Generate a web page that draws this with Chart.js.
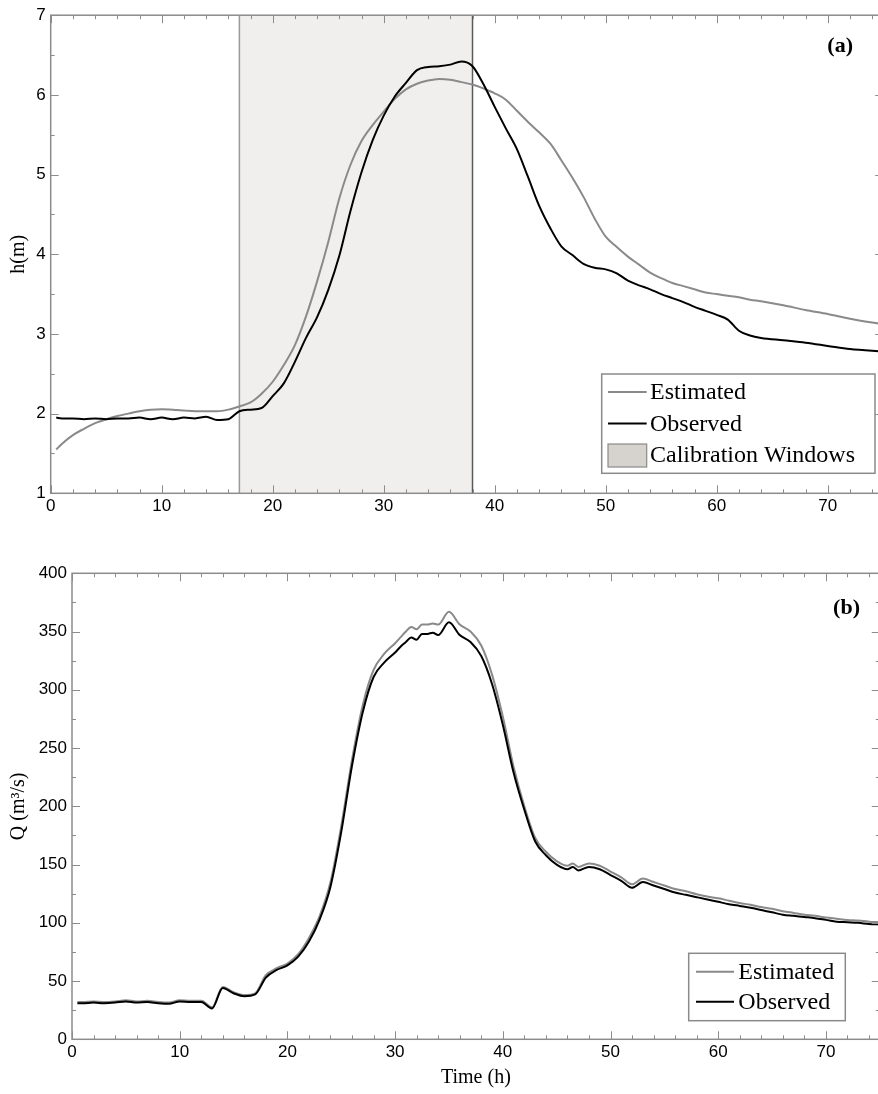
<!DOCTYPE html>
<html>
<head>
<meta charset="utf-8">
<title>Water level and discharge</title>
<script src="https://cdn.jsdelivr.net/npm/chart.js@4.4.1/dist/chart.umd.min.js"></script>
<style>
  html, body { margin:0; padding:0; background:#fff; overflow:hidden; }
  body { width:878px; height:1094px; position:relative; }
  #levelBox { position:absolute; left:0; top:0; }
  #flowBox { position:absolute; left:0; top:540px; }
</style>
</head>
<body>
<div id="levelBox"><canvas id="levelChart" width="884" height="530"></canvas></div>
<div id="flowBox"><canvas id="flowChart" width="881" height="554"></canvas></div>
<script>
// panel (a): water level h (m) against time (h)
const levelTime = [0.5, 1, 2, 3, 4, 5, 6, 7, 8, 9, 10, 11, 12, 13, 14, 15, 16, 17, 18, 19,
  20, 21, 22, 23, 24, 25, 26, 27, 28, 29, 30, 31, 32, 33, 34, 35, 36, 37, 38, 39,
  40, 41, 42, 43, 44, 45, 46, 47, 48, 49, 50, 51, 52, 53, 54, 55, 56, 57, 58, 59,
  60, 61, 62, 63, 64, 66, 68, 70, 72, 75];
const levelEstimated = [1.55, 1.62, 1.73, 1.81, 1.88, 1.93, 1.97, 2.00, 2.03, 2.05, 2.055, 2.05, 2.04, 2.03, 2.03, 2.03, 2.05, 2.09, 2.14, 2.25,
  2.40, 2.61, 2.86, 3.22, 3.66, 4.15, 4.70, 5.12, 5.42, 5.62, 5.79, 5.95, 6.07, 6.14, 6.18, 6.20, 6.19, 6.16, 6.13, 6.08,
  6.02, 5.94, 5.80, 5.66, 5.53, 5.39, 5.18, 4.96, 4.72, 4.45, 4.22, 4.09, 3.97, 3.87, 3.77, 3.70, 3.64, 3.60, 3.56, 3.52,
  3.50, 3.48, 3.46, 3.43, 3.41, 3.36, 3.30, 3.25, 3.19, 3.12];
const levelObserved = [1.95, 1.94, 1.94, 1.93, 1.94, 1.93, 1.94, 1.94, 1.95, 1.93, 1.95, 1.93, 1.95, 1.94, 1.96, 1.92, 1.93, 2.03, 2.05, 2.07,
  2.22, 2.38, 2.65, 2.95, 3.21, 3.55, 3.98, 4.54, 5.03, 5.43, 5.74, 5.98, 6.15, 6.31, 6.35, 6.36, 6.38, 6.42, 6.36, 6.13,
  5.85, 5.58, 5.32, 4.97, 4.61, 4.33, 4.10, 3.99, 3.88, 3.83, 3.81, 3.76, 3.67, 3.61, 3.56, 3.50, 3.45, 3.40, 3.34, 3.29,
  3.24, 3.18, 3.04, 2.98, 2.95, 2.92, 2.89, 2.85, 2.81, 2.78];
const calibStart = 17;
const calibEnd = 38;

// panel (b): discharge Q (m3/s) against time (h)
const flowTime = [0.5, 1, 2, 3, 4, 5, 6, 7, 8, 9, 10, 11, 12, 13, 14, 15, 16, 17, 18, 19,
  20, 21, 22, 23, 24, 25, 26, 27, 28, 29, 30, 30.5, 31, 31.5, 32, 32.5, 33, 33.5, 34, 35,
  36, 37, 38, 39, 40, 41, 42, 43, 44, 45, 46, 46.5, 47, 48, 49, 50, 51, 52, 53, 54,
  55, 56, 57, 58, 59, 60, 61, 62, 63, 64, 65, 66, 67, 68, 69, 70, 71, 72, 73, 74, 75];
const flowEstimated = [32, 32, 32.5, 32, 32.5, 33.5, 32.5, 33, 32, 31.5, 33.5, 33, 33, 27.5, 45, 40.5, 38, 39.5, 55, 61,
  65, 73, 87, 106, 135, 183, 240, 287, 317, 331, 340, 345, 350, 354, 352, 356, 356, 357, 356, 367,
  356, 350, 338, 313, 277, 234, 200, 173, 161, 153, 149, 151, 148, 151, 149, 144, 139, 133, 138, 135,
  132, 129, 127, 124.5, 122.5, 121, 119, 117, 115.5, 113.5, 112, 110, 108.5, 107, 106, 104.5, 103.5, 102.5, 102, 101, 100.5];
const flowObserved = [31, 31, 31.5, 31, 31.5, 32.5, 31.5, 32, 31, 30.5, 32.5, 32, 32, 26.5, 44, 39.5, 37, 38.5, 53, 59.5,
  63.5, 71, 84, 103, 131, 178, 235, 281, 311, 323.5, 332, 337, 341, 345, 343, 348, 348, 349, 347, 358,
  347, 341, 329, 305, 270, 229, 197, 170, 158, 150, 146, 148, 145, 148, 146, 141, 136, 130, 135, 132,
  129, 126, 124, 122, 120, 118, 116, 114.5, 113, 111, 109, 107, 106, 105, 104, 102.5, 101, 100.5, 100, 99, 98.5];

const GREY = '#8a8a8a';
const AXIS = '#8c8c8c';
const SANS = '"Liberation Sans", Arial, sans-serif';
const SERIF = '"Liberation Serif", "Times New Roman", serif';

const pts = (xs, ys) => xs.map((x, i) => ({ x: x, y: ys[i] }));

// shaded calibration window behind the curves
const calibShade = {
  id: 'calibShade',
  beforeDatasetsDraw(chart, args, o) {
    if (!o.on) return;
    const { ctx, chartArea: a, scales: { x } } = chart;
    const x0 = x.getPixelForValue(o.from), x1 = x.getPixelForValue(o.to);
    ctx.save();
    ctx.fillStyle = '#f0efed';
    ctx.fillRect(x0, a.top, x1 - x0, a.bottom - a.top);
    ctx.lineWidth = 1.5;
    ctx.strokeStyle = '#9a9a9a';
    ctx.beginPath(); ctx.moveTo(x0, a.top); ctx.lineTo(x0, a.bottom); ctx.stroke();
    ctx.strokeStyle = '#5a5a5a';
    ctx.beginPath(); ctx.moveTo(x1, a.top); ctx.lineTo(x1, a.bottom); ctx.stroke();
    ctx.restore();
  }
};

// box frame with inward major/minor ticks on all four sides
const frameTicks = {
  id: 'frameTicks',
  afterDatasetsDraw(chart, args, o) {
    const { ctx, chartArea: a, scales: { x, y } } = chart;
    ctx.save();
    ctx.strokeStyle = AXIS;
    ctx.lineWidth = 1;
    ctx.beginPath();
    const mark = (scale, step, len) => {
      for (let v = scale.min; v <= scale.max + 1e-9; v += step) {
        const p = Math.round(scale.getPixelForValue(v)) + 0.5;
        if (scale.axis === 'x') {
          ctx.moveTo(p, a.bottom); ctx.lineTo(p, a.bottom - len);
          ctx.moveTo(p, a.top); ctx.lineTo(p, a.top + len);
        } else {
          ctx.moveTo(a.left, p); ctx.lineTo(a.left + len, p);
          ctx.moveTo(a.right, p); ctx.lineTo(a.right - len, p);
        }
      }
    };
    mark(x, o.xMinor, 4); mark(x, o.xMajor, 8);
    mark(y, o.yMinor, 4); mark(y, o.yMajor, 8);
    ctx.stroke();
    ctx.lineWidth = 1.5;
    ctx.strokeRect(a.left, a.top, a.right - a.left, a.bottom - a.top);
    ctx.restore();
  }
};

// legend box inside the plot, plus the panel tag
const boxLegend = {
  id: 'boxLegend',
  afterDraw(chart, args, o) {
    const ctx = chart.ctx;
    const items = chart.data.datasets.map(d => ({ text: d.label, color: d.borderColor }));
    if (o.extra) items.push(o.extra);
    ctx.save();
    ctx.fillStyle = '#fff';
    ctx.fillRect(o.x, o.y, o.w, o.h);
    ctx.strokeStyle = GREY;
    ctx.lineWidth = 1.5;
    ctx.strokeRect(o.x, o.y, o.w, o.h);
    ctx.font = '24px ' + SERIF;
    ctx.textBaseline = 'middle';
    items.forEach((it, i) => {
      const cy = o.y + o.first + i * o.gap;
      if (it.box) {
        ctx.fillStyle = it.box;
        ctx.fillRect(o.x + o.sx0, cy - 11, o.sx1 - o.sx0, 23);
        ctx.strokeStyle = GREY; ctx.lineWidth = 1.2;
        ctx.strokeRect(o.x + o.sx0, cy - 11, o.sx1 - o.sx0, 23);
      } else {
        ctx.strokeStyle = it.color; ctx.lineWidth = 2;
        ctx.beginPath(); ctx.moveTo(o.x + o.sx0, cy); ctx.lineTo(o.x + o.sx1, cy); ctx.stroke();
      }
      ctx.fillStyle = '#000';
      ctx.fillText(it.text, o.x + o.tx, cy + 1);
    });
    ctx.font = 'bold 22px ' + SERIF;
    ctx.textAlign = 'right';
    ctx.fillText(o.tag, o.tagX, o.tagY);
    ctx.restore();
  }
};

function makeChart(id, cfg) {
  return new Chart(document.getElementById(id), {
    type: 'line',
    data: {
      datasets: [
        { label: 'Estimated', data: pts(cfg.time, cfg.est), borderColor: GREY, borderWidth: 2, order: 2 },
        { label: 'Observed', data: pts(cfg.time, cfg.obs), borderColor: '#000', borderWidth: 2, order: 1 }
      ]
    },
    options: {
      responsive: false,
      animation: false,
      events: [],
      layout: { padding: cfg.pad },
      elements: { point: { radius: 0 }, line: { cubicInterpolationMode: 'monotone' } },
      scales: {
        x: {
          type: 'linear', min: 0, max: 75,
          grid: { display: false, drawTicks: false }, border: { display: false },
          ticks: { stepSize: 10, includeBounds: false, autoSkip: false, maxRotation: 0, padding: 3, color: '#000', font: { family: SANS, size: 17 } },
          title: cfg.xTitle ? { display: true, text: cfg.xTitle, color: '#000', font: { family: SERIF, size: 20 }, padding: { top: 0, bottom: 4 } } : { display: false },
          afterFit: s => { s.height = cfg.xHeight; }
        },
        y: {
          min: cfg.yMin, max: cfg.yMax,
          grid: { display: false, drawTicks: false }, border: { display: false },
          ticks: { stepSize: cfg.yStep, autoSkip: false, padding: 5, color: '#000', font: { family: SANS, size: 17 } },
          title: { display: true, text: cfg.yTitle, color: '#000', font: { family: SERIF, size: 20 }, padding: { top: 7, bottom: 0 } },
          afterFit: s => { s.width = cfg.yWidth; }
        }
      },
      plugins: {
        legend: { display: false },
        tooltip: { enabled: false },
        calibShade: cfg.calib,
        frameTicks: { xMajor: 10, xMinor: 2, yMajor: cfg.yStep, yMinor: cfg.yStep / 2 },
        boxLegend: cfg.legend
      }
    },
    plugins: [calibShade, frameTicks, boxLegend]
  });
}

makeChart('levelChart', {
  time: levelTime, est: levelEstimated, obs: levelObserved,
  yMin: 1, yMax: 7, yStep: 1, yTitle: 'h(m)',
  pad: { top: 14.7, right: 0.8, left: 0, bottom: 0 },
  yWidth: 50.7, xHeight: 36.7,
  calib: { on: true, from: calibStart, to: calibEnd },
  legend: { x: 601.7, y: 374, w: 273.3, h: 99.3, first: 18, gap: 31.5, sx0: 6.3, sx1: 45, tx: 48.3,
    extra: { text: 'Calibration Windows', box: '#d6d3ce' }, tag: '(a)', tagX: 853, tagY: 46 }
});

makeChart('flowChart', {
  time: flowTime, est: flowEstimated, obs: flowObserved,
  yMin: 0, yMax: 400, yStep: 50, yTitle: 'Q (m\u00b3/s)', xTitle: 'Time (h)',
  pad: { top: 33.3, right: 1.25, left: 0, bottom: 0 },
  yWidth: 72, xHeight: 54.7,
  calib: { on: false },
  legend: { x: 688.7, y: 413.3, w: 156.6, h: 67.4, first: 18.4, gap: 30, sx0: 7.3, sx1: 45.3, tx: 49.6,
    tag: '(b)', tagX: 860, tagY: 68 }
});
</script>
</body>
</html>
